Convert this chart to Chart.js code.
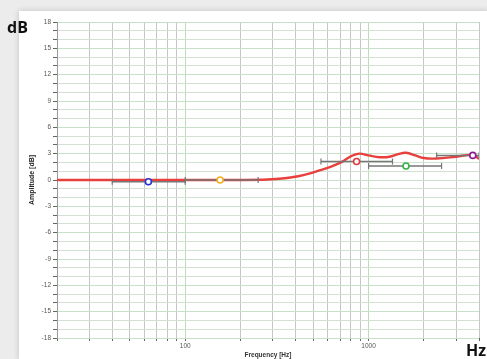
<!DOCTYPE html>
<html>
<head>
<meta charset="utf-8">
<script src="https://cdn.jsdelivr.net/npm/chart.js@4.4.1/dist/chart.umd.min.js"></script>
<style>
  body { margin: 0; background: #ececec; font-family: "Open Sans", sans-serif; }
  #wrap { position: relative; width: 487px; height: 359px; overflow: hidden; }
  #card { position: absolute; left: 19px; top: 11px; width: 470px; height: 350px; background: #fff;
          box-shadow: 0 0 6px rgba(0,0,0,0.18); }
  #myChart { position: absolute; left: 0; top: 0; }
  .unit { position: absolute; font-weight: bold; font-size: 16px; color: #111; }
</style>
</head>
<body>
<div id="wrap">
  <div id="card"></div>
  <canvas id="myChart" width="487" height="359"></canvas>
  <div class="unit" style="left:7px; top:16px;">dB</div>
  <div class="unit" style="right:1px; top:339px;">Hz</div>
</div>
<script>
// response curve
const freq = [20, 100, 200, 280, 350, 420, 480, 540, 620, 720, 800, 890, 1000, 1150, 1300, 1450, 1600, 1800, 2000, 2350, 3000, 3700, 4000];
const amp = [0, 0, 0, 0.05, 0.2, 0.45, 0.75, 1.1, 1.5, 2.1, 2.7, 3.0, 2.8, 2.6, 2.65, 2.95, 3.1, 2.8, 2.5, 2.45, 2.65, 2.85, 2.4];

// filter bands (centre, gain, range)
const bandCenter = [63, 155, 860, 1600, 3700];
const bandGain = [-0.2, 0, 2.1, 1.6, 2.8];
const bandLow = [40, 100, 550, 1000, 2350];
const bandHigh = [100, 250, 1350, 2500, 4000];
const bandColor = ["#2233d8", "#f2b01e", "#e23b3b", "#35b248", "#8b1c8f"];

const xLabels = [100, 1000];
const yLabelStep = 3;

let datasets = [
  {
    label: "response",
    data: freq.map((f, i) => ({ x: f, y: amp[i] })),
    borderColor: "#e8403c",
    borderWidth: 2.4,
    pointRadius: 0,
    tension: 0.4,
    order: 3,
  },
];

bandCenter.forEach((c, i) => {
  datasets.push({
    label: "range" + i,
    data: [{ x: bandLow[i], y: bandGain[i] }, { x: bandHigh[i], y: bandGain[i] }],
    borderColor: "#767676",
    borderWidth: 1.5,
    pointStyle: "line",
    rotation: 90,
    pointRadius: 3,
    pointBorderColor: "#767676",
    pointBorderWidth: 1.2,
    order: 2,
  });
  datasets.push({
    label: "band" + i,
    data: [{ x: c, y: bandGain[i] }],
    showLine: false,
    pointStyle: "circle",
    pointRadius: 3,
    pointBorderWidth: 1.6,
    pointBorderColor: bandColor[i],
    pointBackgroundColor: "#fff",
    order: 1,
  });
});

const ctx = document.getElementById("myChart");

new Chart(ctx, {
  type: "line",
  data: { datasets: datasets },
  options: {
    responsive: false,
    animation: false,
    layout: { padding: { left: 0, right: 8, top: 22, bottom: 0 } },
    plugins: { legend: { display: false }, tooltip: { enabled: false } },
    scales: {
      x: {
        type: "logarithmic",
        min: 20,
        max: 4000,
        afterFit: (s) => { s.height = 21; },
        afterBuildTicks: (s) => {
          let t = [];
          [10, 100, 1000].forEach((d) => {
            for (let k = 1; k < 10; k++) {
              let v = d * k;
              if (v >= 20 && v <= 4000) t.push({ value: v });
            }
          });
          s.ticks = t;
        },
        ticks: {
          autoSkip: false,
          maxRotation: 0,
          padding: 1,
          font: { size: 6.5 },
          color: "#555",
          callback: (v) => (xLabels.includes(v) ? String(v) : ""),
        },
        grid: {
          color: (c) => {
            let v = c.tick ? c.tick.value : 0;
            return Math.log10(v) % 1 === 0 ? "#bcdcbc" : "#c6c6c6";
          },
          lineWidth: 1,
          tickLength: 3,
          tickColor: "#666",
        },
        border: { display: false },
        title: {
          display: true,
          text: "Frequency [Hz]",
          font: { size: 6.5, weight: "bold" },
          color: "#333",
          padding: { top: 2, bottom: 0 },
        },
      },
      y: {
        min: -18,
        max: 18,
        afterFit: (s) => { s.width = 57; },
        ticks: {
          stepSize: 1,
          autoSkip: false,
          padding: 2,
          font: { size: 6.5 },
          color: "#555",
          callback: (v) => (v % yLabelStep === 0 ? String(v) : ""),
        },
        grid: {
          color: (c) => {
            let v = c.tick ? c.tick.value : 0;
            return v % yLabelStep === 0 ? "#c8e0c8" : "#d2e2d2";
          },
          lineWidth: 1,
          tickLength: 4,
          tickColor: "#666",
        },
        border: { display: true, color: "#999" },
        title: {
          display: true,
          text: "Amplitude [dB]",
          font: { size: 7, weight: "bold" },
          color: "#222",
          padding: { top: 28, bottom: 0 },
        },
      },
    },
  },
});
</script>
</body>
</html>
